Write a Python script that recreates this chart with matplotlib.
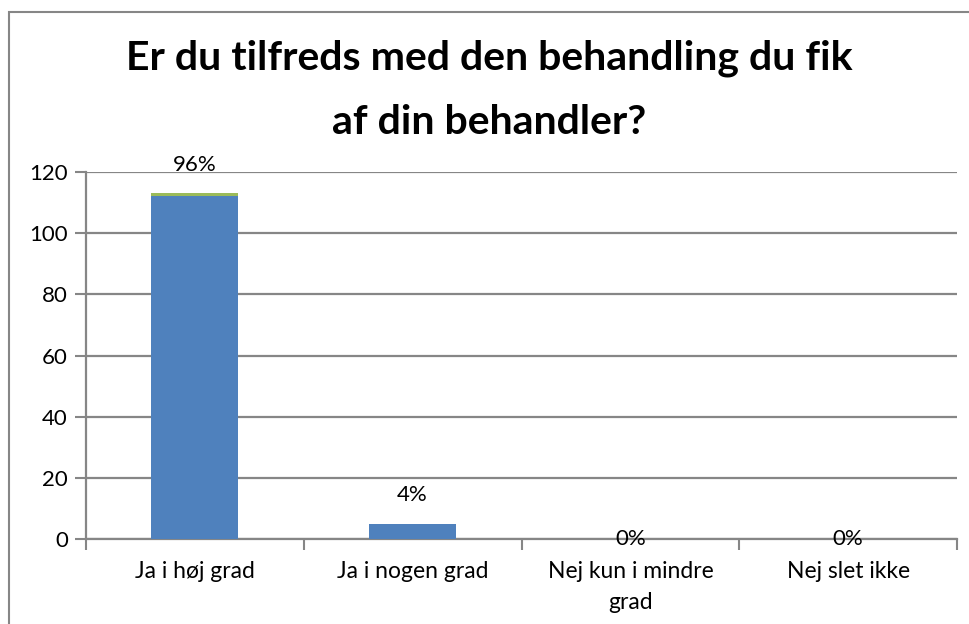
import matplotlib
matplotlib.use("Agg")
import matplotlib.pyplot as plt
from matplotlib.patches import Rectangle
import numpy as np

categories = ["Ja i høj grad", "Ja i nogen grad", "Nej kun i mindre\ngrad", "Nej slet ikke"]
blue_values = [112, 5, 0, 0]
green_values = [1, 0, 0, 0]
pct_labels = ["96%", "4%", "0%", "0%"]
yticks = [0, 20, 40, 60, 80, 100, 120]
title_lines = ["Er du tilfreds med den behandling du fik", "af din behandler?"]

plt.rcParams['font.family'] = ['Lato', 'DejaVu Sans']

fig = plt.figure(figsize=(9.69, 6.24), dpi=100)
ax = fig.add_axes([86/969, 1-539/624, (957-86)/969, (539-172)/624])

x = np.arange(len(categories))
ax.bar(x, blue_values, width=0.4, color="#4F81BD", zorder=3)
ax.bar(x, green_values, width=0.4, bottom=blue_values, color="#9BBB59", zorder=3)

totals = np.array(blue_values) + np.array(green_values)
for xi, t, lab in zip(x, totals, pct_labels):
    off = 20.5 if t > 0 else 0
    ax.annotate(lab, (xi, t), xytext=(0, off), textcoords="offset points",
                ha="center", va="center", fontsize=16, zorder=4, annotation_clip=False)

ax.set_xlim(-0.5, len(categories) - 0.5)
ax.set_ylim(0, 120)
ax.set_yticks(yticks)
ax.set_yticklabels([str(v) for v in yticks], fontsize=16)
ax.yaxis.grid(True, color="#868686", linewidth=1.6, zorder=0)
ax.set_axisbelow(True)

ax.set_xticks(np.arange(-0.5, len(categories), 1.0))
ax.set_xticklabels([])
ax.set_xticks(x, minor=True)
ax.set_xticklabels(categories, minor=True, fontsize=16.5, linespacing=1.6)
ax.tick_params(axis="x", which="minor", length=0, pad=16)
ax.tick_params(axis="x", which="major", length=8, width=1.5, color="#868686", direction="out")
ax.tick_params(axis="y", length=8, width=1.5, color="#868686", direction="out", pad=5)

for s in ["top", "right"]:
    ax.spines[s].set_visible(False)
for s in ["left", "bottom"]:
    ax.spines[s].set_color("#868686")
    ax.spines[s].set_linewidth(1.6)

fig.text(489/969, 1-58/624, title_lines[0], ha="center", va="center", fontsize=29.5,
         fontweight="bold")
fig.text(489/969, 1-123/624, title_lines[1], ha="center", va="center", fontsize=29.5,
         fontweight="bold")

border = Rectangle((8.5/969, -0.05), 1.0, 1-11.5/624+0.05, transform=fig.transFigure,
                   fill=False, edgecolor="#868686", linewidth=1.5)
fig.patches.append(border)

fig.savefig("out.png", dpi=100)
